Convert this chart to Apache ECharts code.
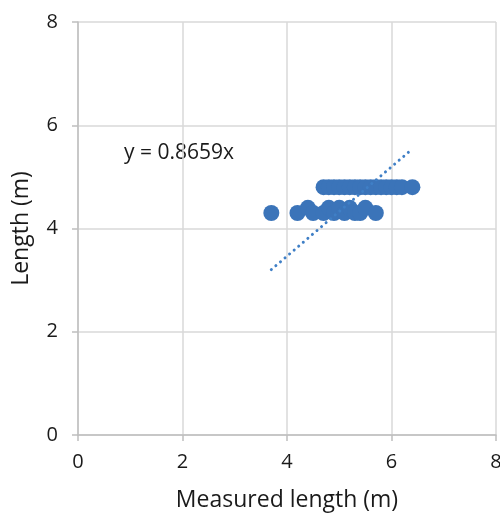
<!DOCTYPE html>
<html><head><meta charset="utf-8">
<script src="https://cdn.jsdelivr.net/npm/echarts@6/dist/echarts.min.js"></script>
<style>html,body{margin:0;padding:0;background:#fff}#c{width:500px;height:516px}</style>
</head><body><div id="c"></div>
<script>
const xTicks = [0, 2, 4, 6, 8];
const yTicks = [0, 2, 4, 6, 8];
const measuredX = [3.7, 4.2, 4.4, 4.5, 4.7, 4.8, 4.9, 5.0, 5.1, 5.2, 5.3, 5.4, 5.5, 5.7,
  4.7, 4.8, 4.9, 5.0, 5.1, 5.2, 5.3, 5.4, 5.5, 5.6, 5.7, 5.8, 5.9, 6.0, 6.1, 6.2, 6.4];
const lengthY = [4.3, 4.3, 4.4, 4.3, 4.3, 4.4, 4.3, 4.4, 4.3, 4.4, 4.3, 4.3, 4.4, 4.3,
  4.8, 4.8, 4.8, 4.8, 4.8, 4.8, 4.8, 4.8, 4.8, 4.8, 4.8, 4.8, 4.8, 4.8, 4.8, 4.8, 4.8];
const slope = 0.8659;
const trendLabel = 'y = 0.8659x';

const pts = measuredX.map((x, i) => [x, lengthY[i]]);
const xmin = Math.min(...measuredX), xmax = Math.max(...measuredX);
const trend = [[xmin, slope * xmin], [xmax, slope * xmax]];
const FONT = 'Open Sans';
const BLUE = '#3b74b9';

const chart = echarts.init(document.getElementById('c'));
chart.setOption({
  animation: false,
  grid: { left: 78, right: 4, top: 22, bottom: 81, containLabel: false, outerBoundsMode: 'none' },
  xAxis: {
    type: 'value', min: xTicks[0], max: xTicks[xTicks.length - 1], interval: 2,
    name: 'Measured length (m)', nameLocation: 'middle', nameGap: 54,
    nameTextStyle: { fontFamily: FONT, fontSize: 23, color: '#1a1a1a' },
    axisLine: { show: true, lineStyle: { color: '#bfbfbf', width: 1.5 } },
    axisTick: { show: true, length: 6, lineStyle: { color: '#bfbfbf', width: 1.5 } },
    axisLabel: { fontFamily: FONT, fontSize: 20, color: '#1a1a1a', margin: 17 },
    splitLine: { show: true, lineStyle: { color: '#d9d9d9', width: 1.5 } }
  },
  yAxis: {
    type: 'value', min: yTicks[0], max: yTicks[yTicks.length - 1], interval: 2,
    name: 'Length (m)', nameLocation: 'middle', nameGap: 45, nameRotate: 90,
    nameTextStyle: { fontFamily: FONT, fontSize: 23, color: '#1a1a1a' },
    axisLine: { show: true, lineStyle: { color: '#bfbfbf', width: 1.5 } },
    axisTick: { show: true, length: 6, lineStyle: { color: '#bfbfbf', width: 1.5 } },
    axisLabel: { fontFamily: FONT, fontSize: 20, color: '#1a1a1a', margin: 20 },
    splitLine: { show: true, lineStyle: { color: '#d9d9d9', width: 1.5 } }
  },
  series: [
    { type: 'scatter', data: pts, symbolSize: 16, itemStyle: { color: BLUE, opacity: 1 }, z: 2 },
    { type: 'line', data: trend, symbol: 'none', z: 3,
      lineStyle: { color: '#3f7fc6', width: 3, type: [0.01, 6], cap: 'round' } }
  ],
  graphic: [{
    type: 'text', left: 124, top: 143,
    style: { text: trendLabel, fontFamily: FONT, fontSize: 21, fill: '#1a1a1a' }
  }]
});
</script></body></html>
